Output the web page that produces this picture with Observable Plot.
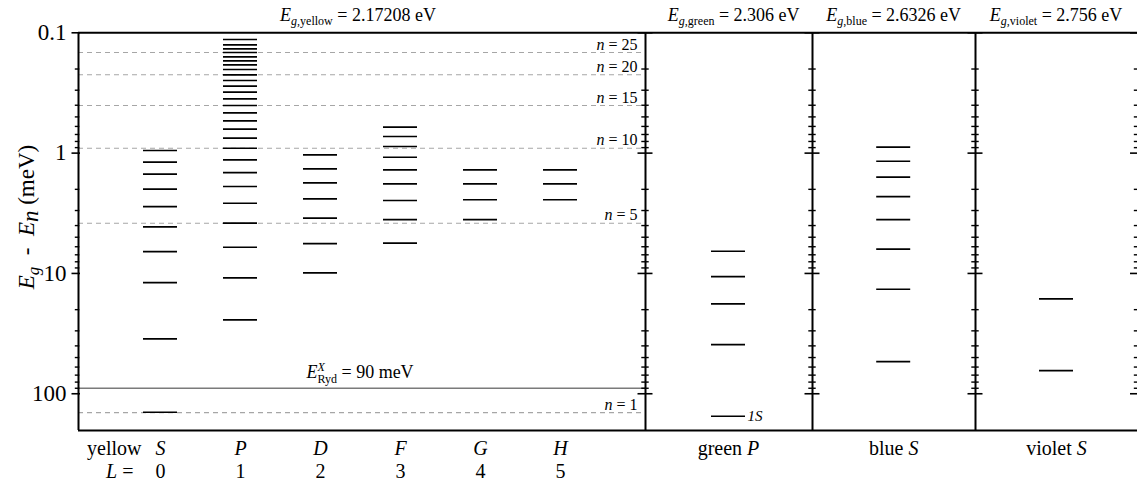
<!DOCTYPE html>
<html><head><meta charset="utf-8">
<script src="https://cdn.jsdelivr.net/npm/d3@7"></script>
<script src="https://cdn.jsdelivr.net/npm/@observablehq/plot@0.6"></script>
<style>
html,body{margin:0;padding:0;background:#fff;overflow:hidden}
#chart svg{display:block}
</style></head><body><div id="chart"></div>
<script>
// ---------- data (meV below the gap) ----------
const yellowS = [0.9515, 1.19, 1.497, 1.995, 2.779, 4.10, 6.577, 11.9, 34.97, 142.5];
const yellowP = [0.1137, 0.1258, 0.1358, 0.1458, 0.1583, 0.1709, 0.1845, 0.2019, 0.2234, 0.2491,
                 0.2779, 0.3118, 0.3536, 0.4020, 0.4624, 0.5389, 0.6328, 0.7518, 0.9106, 1.137,
                 1.45, 1.895, 2.61, 3.825, 6.057, 10.88, 24.3];
const yellowD = [1.033, 1.35, 1.766, 2.399, 3.476, 5.642, 9.886];
const yellowF = [0.609, 0.7278, 0.8813, 1.082, 1.376, 1.80, 2.477, 3.565, 5.588];
const yellowG = [1.376, 1.80, 2.44, 3.565];
const yellowH = [1.376, 1.80, 2.44];
const greenP = [6.54, 10.61, 17.89, 38.99, 153.8];
const blueS = [0.893, 1.168, 1.586, 2.295, 3.565, 6.29, 13.53, 54.0];
const violetS = [16.26, 64.15];

const rydbergE = 90;
const dashedN = ["25", "20", "15", "10", "5", "1"];
const dashedE = [0.1458, 0.2234, 0.402, 0.9106, 3.825, 143.5];

const yTickMajor = [0.1, 1, 10, 100];
const yTickLabels = ["0.1", "1", "10", "100"];
const yTickMinor = [0.2,0.3,0.4,0.5,0.6,0.7,0.8,0.9, 2,3,4,5,6,7,8,9, 20,30,40,50,60,70,80,90];

const gapNames = ["yellow", "green", "blue", "violet"];
const gapValues = ["2.17208", "2.306", "2.6326", "2.756"];
const orbitalLetters = ["S", "P", "D", "F", "G", "H"];
const Lvalues = ["0", "1", "2", "3", "4", "5"];
const panelLabels = ["green P", "blue S", "violet S"];

// ---------- layout (slot units on the x scale) ----------
const yellowCols = ["yS","yP","yD","yF","yG","yH"];
const slot = {yS:1.025, yP:2.025, yD:3.025, yF:4.025, yG:5.025, yH:6.025, gP:8.125, bS:10.19, vS:12.225};
const dividers = [7.0875, 9.175, 11.2125, 13.244];
const titleX = [3.494, 8.19, 10.19, 12.22];
const panelLabelX = [slot.gP, slot.bS, slot.vS];
const yDomain = [0.1, 202];
const yLabelPos = {x: -0.56, y: 3.4};

const series = {yS:yellowS, yP:yellowP, yD:yellowD, yF:yellowF, yG:yellowG, yH:yellowH, gP:greenP, bS:blueS, vS:violetS};
const levels = Object.entries(series).flatMap(([k, arr]) => arr.map(E => ({k, E})));
const majorCross = dividers.flatMap(x => yTickMajor.map(y => ({x, y})));
const minorCross = dividers.flatMap(x => yTickMinor.map(y => ({x, y})));
const titles = gapNames.map((n, i) => ({x: titleX[i], t: `Eg,${n} = ${gapValues[i]} eV`, n, v: gapValues[i]}));
const nLabels = dashedN.map((n, i) => ({n, E: dashedE[i], t: `n = ${n}`}));

const zero = () => 0;
const div0 = () => dividers[0];
const F = "Liberation Serif";
const row1 = 24, row2 = 47, bottomFont = 20;

const chart = Plot.plot({
  width: 1137, height: 484,
  marginLeft: 78, marginRight: 0, marginTop: 32, marginBottom: 54,
  x: {type: "linear", domain: [0, 13.2375], axis: null},
  y: {type: "log", domain: yDomain, range: [32.3, 430], axis: null},
  style: {fontFamily: F, background: "white", color: "black"},
  marks: [
    Plot.ruleY(dashedE, {x1: zero, x2: div0, stroke: "#a6a6a6", strokeWidth: 1.1, strokeDasharray: "5,4"}),
    Plot.ruleY([rydbergE], {x1: zero, x2: div0, stroke: "#7a7a7a", strokeWidth: 1.5}),
    Plot.ruleY(yDomain, {stroke: "black", strokeWidth: 2}),
    Plot.ruleX([0], {stroke: "black", strokeWidth: 2}),
    Plot.ruleX(dividers, {stroke: "black", strokeWidth: 2}),
    Plot.ruleY(yTickMajor, {x1: zero, x2: zero, insetLeft: -6.5, insetRight: -2, stroke: "black", strokeWidth: 1.6}),
    Plot.ruleY(yTickMinor, {x1: zero, x2: zero, insetLeft: -3.2, insetRight: -1.3, stroke: "black", strokeWidth: 1.4}),
    Plot.ruleY(majorCross, {y: "y", x1: "x", x2: "x", insetLeft: -7.5, insetRight: -7.5, stroke: "black", strokeWidth: 1.6}),
    Plot.ruleY(minorCross, {y: "y", x1: "x", x2: "x", insetLeft: -3.7, insetRight: -3.7, stroke: "black", strokeWidth: 1.4}),
    Plot.ruleY(levels, {y: "E", x1: d => slot[d.k], x2: d => slot[d.k], insetLeft: -17, insetRight: -17, stroke: "black", strokeWidth: 1.7}),
    Plot.text(yTickMajor, {x: zero, y: d => d, text: (d, i) => yTickLabels[i], textAnchor: "end", dx: -12, fontSize: 23, lineAnchor: "middle", fontFamily: F}),
    Plot.text(titles, {x: "x", frameAnchor: "top", text: "t", dy: -12, lineAnchor: "bottom", fontSize: 18, fontFamily: F}),
    Plot.text(nLabels, {x: div0, y: "E", text: "t", textAnchor: "end", dx: -8, dy: -3, lineAnchor: "bottom", fontSize: 16, fontFamily: F}),
    Plot.text([rydbergE], {x: () => 3.52, y: d => d, text: () => "EXRyd = 90 meV", dy: -10, lineAnchor: "bottom", fontSize: 18, fontFamily: F}),
    Plot.text([greenP[greenP.length - 1]], {x: () => slot.gP, y: d => d, text: () => "1S", textAnchor: "start", dx: 19, lineAnchor: "middle", fontSize: 15, fontStyle: "italic", fontFamily: F}),
    Plot.text(orbitalLetters, {x: (d, i) => slot[yellowCols[i]], frameAnchor: "bottom", text: d => d, dy: row1, lineAnchor: "bottom", fontSize: bottomFont, fontStyle: "italic", fontFamily: F}),
    Plot.text(Lvalues, {x: (d, i) => slot[yellowCols[i]], frameAnchor: "bottom", text: d => d, dy: row2, lineAnchor: "bottom", fontSize: bottomFont, fontFamily: F}),
    Plot.text(["yellow"], {x: () => slot.yS, frameAnchor: "bottom", text: d => d, dx: -19, dy: row1, textAnchor: "end", lineAnchor: "bottom", fontSize: bottomFont, fontFamily: F}),
    Plot.text(["L ="], {x: () => slot.yS, frameAnchor: "bottom", text: d => d, dx: -27, dy: row2, textAnchor: "end", lineAnchor: "bottom", fontSize: bottomFont, fontFamily: F}),
    Plot.text(panelLabels, {x: (d, i) => panelLabelX[i], frameAnchor: "bottom", text: d => d, dy: row1, lineAnchor: "bottom", fontSize: bottomFont, fontFamily: F}),
    Plot.text(["Eg - En (meV)"], {x: () => yLabelPos.x, y: () => yLabelPos.y, text: d => d, rotate: -90, lineAnchor: "bottom", fontSize: 23, fontFamily: F})
  ]
});
document.getElementById("chart").appendChild(chart);

// ---------- rich text (italics, sub/superscripts) ----------
function rich(plain, segs) {
  d3.select(chart).selectAll("text").filter(function () { return this.textContent === plain; }).each(function () {
    const t = d3.select(this); t.text(null);
    let shift = 0;
    for (const s of segs) {
      const ts = t.append("tspan").text(s.t);
      ts.attr("font-style", s.i ? "italic" : "normal");
      if (s.fs) ts.attr("font-size", s.fs);
      const target = s.dy || 0;
      if (target !== shift) { ts.attr("dy", target - shift); shift = target; }
      if (s.dx) ts.attr("dx", s.dx);
    }
  });
}
titles.forEach(d => rich(d.t, [{t: "E", i: 1}, {t: "g", i: 1, fs: 12, dy: 4}, {t: "," + d.n, fs: 12, dy: 4}, {t: ` = ${d.v} eV`}]));
nLabels.forEach(d => rich(d.t, [{t: "n", i: 1}, {t: ` = ${d.n}`}]));
rich("EXRyd = 90 meV", [{t: "E", i: 1}, {t: "X", i: 1, fs: 12, dy: -7}, {t: "Ryd", fs: 12, dy: 5, dx: -7.5}, {t: " = 90 meV"}]);
rich("green P", [{t: "green "}, {t: "P", i: 1}]);
rich("blue S", [{t: "blue "}, {t: "S", i: 1}]);
rich("violet S", [{t: "violet "}, {t: "S", i: 1}]);
rich("L =", [{t: "L", i: 1}, {t: " ="}]);
rich("Eg - En (meV)", [{t: "E", i: 1}, {t: "g", i: 1, fs: 17, dy: 5}, {t: "  -  "}, {t: "E", i: 1}, {t: "n", i: 1, fs: 23, dy: 4}, {t: " (meV)"}]);
</script></body></html>
